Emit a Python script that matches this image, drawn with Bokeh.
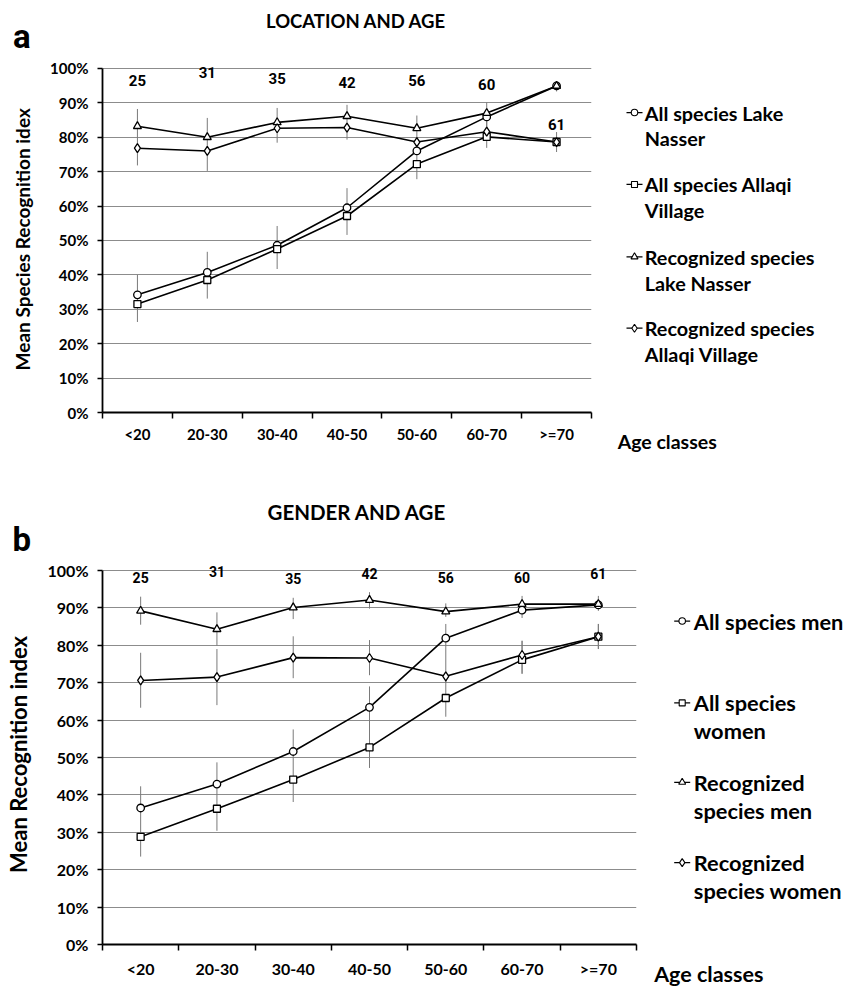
from bokeh.plotting import figure
from bokeh.models import Range1d, FixedTicker, PrintfTickFormatter, LabelSet, ColumnDataSource
from bokeh.layouts import column, row
from bokeh.embed import file_html
from bokeh.resources import INLINE
from bokeh.core.properties import value

# ---------------- data ----------------
age_classes = ["<20", "20-30", "30-40", "40-50", "50-60", "60-70", ">=70"]
y_ticks = [0, 10, 20, 30, 40, 50, 60, 70, 80, 90, 100]

# panel a : location and age
a_all_nasser = [34.2, 40.7, 48.6, 59.5, 76.0, 85.9, 94.9]
a_all_allaqi = [31.5, 38.5, 47.5, 57.1, 72.2, 80.1, 78.6]
a_rec_nasser = [83.2, 80.0, 84.3, 86.1, 82.6, 87.0, 94.9]
a_rec_allaqi = [76.8, 76.0, 82.6, 82.8, 78.6, 81.6, 78.6]
a_bar1_lo = [71.8, 70.2, 78.4, 79.3, 79.0, 82.0, 93.3]
a_bar1_hi = [88.2, 85.6, 88.5, 89.4, 86.3, 90.1, 96.2]
a_bar2_lo = [26.3, 33.1, 41.7, 51.6, 67.8, 76.9, 75.7]
a_bar2_hi = [40.0, 46.7, 54.2, 65.2, 80.0, 86.0, 81.5]
a_n = ["25", "31", "35", "42", "56", "60", "61"]
a_n_y = [96.6, 98.8, 97.0, 96.0, 96.5, 95.2, 83.7]
a_legend = [["All species Lake", "Nasser"], ["All species Allaqi", "Village"],
            ["Recognized species", "Lake Nasser"], ["Recognized species", "Allaqi Village"]]

# panel b : gender and age
b_all_men = [36.5, 42.9, 51.6, 63.4, 81.9, 89.4, 90.8]
b_all_women = [28.8, 36.3, 44.1, 52.7, 65.9, 76.1, 82.3]
b_rec_men = [89.2, 84.3, 90.1, 92.1, 89.0, 91.0, 91.0]
b_rec_women = [70.6, 71.5, 76.7, 76.6, 71.7, 77.4, 82.3]
b_bar1_lo = [85.5, 79.9, 87.0, 89.8, 87.6, 87.3, 89.2]
b_bar1_hi = [93.0, 88.8, 92.7, 94.2, 91.2, 93.2, 93.2]
b_bar2_lo = [63.3, 64.0, 71.2, 72.0, 70.0, 72.4, 79.0]
b_bar2_hi = [78.0, 79.0, 82.4, 81.4, 85.7, 81.2, 85.7]
b_bar3_lo = [23.5, 30.4, 38.1, 47.2, 60.9, 72.4, 79.0]
b_bar3_hi = [42.3, 48.7, 57.5, 69.0, 71.0, 81.2, 85.7]
b_n = ["25", "31", "35", "42", "56", "60", "61"]
b_n_y = [98.1, 99.8, 97.8, 99.2, 98.1, 98.1, 99.1]
b_legend = [["All species men"], ["All species", "women"],
            ["Recognized", "species men"], ["Recognized", "species women"]]

MARKERS = ["circle", "square", "triangle", "diamond"]
MSIZE = {"circle": 7.5, "square": 7, "triangle": 8, "diamond": 9}
FONT = "Lato"
NUMFONT = "Roboto"
W = 858


def title_fig(height, title, title_xy, title_size, letter, letter_xy, letter_size):
    t = figure(width=W, height=height, x_range=Range1d(0, W), y_range=Range1d(height, 0),
               output_backend="svg", toolbar_location=None,
               min_border_left=0, min_border_right=0, min_border_top=0, min_border_bottom=0)
    t.axis.visible = False
    t.grid.visible = False
    t.outline_line_color = None
    t.text(x=[title_xy[0]], y=[title_xy[1]], text=[title], text_align="left",
           text_baseline="middle", text_font=value(FONT), text_font_style="bold",
           text_font_size=value(title_size), text_color="black")
    t.text(x=[letter_xy[0]], y=[letter_xy[1]], text=[letter], text_align="left",
           text_baseline="middle", text_font=value(NUMFONT), text_font_style="bold",
           text_font_size=value(letter_size), text_color="black")
    return t


def make_plot(series, bars, counts, count_y, width, height, top, bottom, y_end,
              ylabel, ylabel_size, tick_size, xstand, count_size):
    p = figure(width=width, height=height, x_range=Range1d(0, 7), y_range=Range1d(0, y_end),
               output_backend="svg", toolbar_location=None,
               min_border_left=102, min_border_right=2,
               min_border_top=top, min_border_bottom=bottom)
    p.outline_line_color = None
    p.xgrid.visible = False
    centers = [i + 0.5 for i in range(len(age_classes))]
    bounds = list(range(len(age_classes) + 1))

    xa = p.xaxis[0]
    xa.ticker = FixedTicker(ticks=centers, minor_ticks=bounds)
    xa.major_label_overrides = {c: lab for c, lab in zip(centers, age_classes)}
    xa.major_tick_in = 0
    xa.major_tick_out = 0
    xa.minor_tick_in = 0
    xa.minor_tick_out = 6
    xa.minor_tick_line_color = "black"
    xa.minor_tick_line_width = 1.5
    xa.axis_line_color = "black"
    xa.axis_line_width = 1.8
    xa.major_label_standoff = xstand
    xa.major_label_text_font = FONT
    xa.major_label_text_font_style = "bold"
    xa.major_label_text_font_size = tick_size
    xa.major_label_text_color = "black"

    ya = p.yaxis[0]
    ya.ticker = FixedTicker(ticks=y_ticks)
    ya.bounds = (0, 100)
    ya.formatter = PrintfTickFormatter(format="%d%%")
    ya.major_tick_in = 0
    ya.major_tick_out = 5
    ya.major_tick_line_width = 1.5
    ya.minor_tick_line_color = None
    ya.axis_line_color = "black"
    ya.axis_line_width = 1.8
    ya.major_label_standoff = 9
    ya.major_label_text_font = FONT
    ya.major_label_text_font_style = "bold"
    ya.major_label_text_font_size = tick_size
    ya.major_label_text_color = "black"
    ya.axis_label = ylabel
    ya.axis_label_text_font = FONT
    ya.axis_label_text_font_style = "bold"
    ya.axis_label_text_font_size = ylabel_size
    ya.axis_label_text_color = "black"
    ya.axis_label_standoff = 13

    p.ygrid.grid_line_color = "#8c8c8c"
    p.ygrid.grid_line_width = 1

    for lo, hi in bars:
        p.segment(x0=centers, y0=lo, x1=centers, y1=hi, line_color="#7a7a7a", line_width=1)
    for vals in series:
        p.line(centers, vals, line_color="black", line_width=1.6)
    for vals, m in zip(series, MARKERS):
        p.scatter(centers, vals, marker=m, size=MSIZE[m], fill_color="white",
                  line_color="black", line_width=1.3)

    src = ColumnDataSource(dict(x=centers, y=count_y, t=counts))
    p.add_layout(LabelSet(x="x", y="y", text="t", source=src, text_align="center",
                          text_baseline="middle", text_font=value(NUMFONT),
                          text_font_style="bold", text_font_size=value(count_size),
                          text_color="black"))
    return p


def make_legend(labels, x0, height, ytop, ybot, entry_y, line_gap, text_x, mark_x,
                font_size, age_x, age_size, age_stand):
    lw = W - x0
    lf = figure(width=lw, height=height, x_range=Range1d(x0, W), y_range=Range1d(ybot, ytop),
                output_backend="svg", toolbar_location=None,
                min_border_left=0, min_border_right=0)
    lf.yaxis.visible = False
    lf.grid.visible = False
    lf.outline_line_color = None
    xa = lf.xaxis[0]
    xa.ticker = FixedTicker(ticks=[age_x])
    xa.major_label_overrides = {age_x: "Age classes"}
    xa.axis_line_color = None
    xa.major_tick_line_color = None
    xa.minor_tick_line_color = None
    xa.major_tick_out = 0
    xa.major_label_standoff = age_stand
    xa.major_label_text_font = FONT
    xa.major_label_text_font_style = "bold"
    xa.major_label_text_font_size = age_size
    xa.major_label_text_color = "black"
    for lab, ey, m in zip(labels, entry_y, MARKERS):
        lf.segment(x0=[mark_x - 8], y0=[ey], x1=[mark_x + 8], y1=[ey], line_color="black",
                   line_width=1.2)
        lf.scatter([mark_x], [ey], marker=m, size=MSIZE[m] - 1, fill_color="white",
                   line_color="black", line_width=1.1)
        ys = [ey + k * line_gap for k in range(len(lab))]
        lf.text(x=[text_x] * len(lab), y=ys, text=lab, text_align="left",
                text_baseline="middle", text_font=value(FONT), text_font_style="bold",
                text_font_size=value(font_size), text_color="black")
    return lf


# ---- panel a (page rows 0-56 and 56-480) ----
ta = title_fig(56, "LOCATION AND AGE", (265.5, 20), "18.5px", "a", (12.5, 36.2), "33px")
pa = make_plot([a_all_nasser, a_all_allaqi, a_rec_nasser, a_rec_allaqi],
               [(a_bar1_lo, a_bar1_hi), (a_bar2_lo, a_bar2_hi)],
               a_n, a_n_y, 593, 424, 2, 68, 102.0,
               "Mean  Species Recognition idex", "19px", "15px", 6, "15px")
la = make_legend(a_legend, 593, 424, 58, 412, [109.5, 182, 255, 327], 26, 644.3, 634,
                 "19.8px", 666.7, "19.5px", 17)

# ---- panel b (page rows 480-559 and 559-989) ----
tb = title_fig(79, "GENDER AND AGE", (267, 31.5), "20.5px", "b", (12, 59.2), "33px")
pb = make_plot([b_all_men, b_all_women, b_rec_men, b_rec_women],
               [(b_bar1_lo, b_bar1_hi), (b_bar2_lo, b_bar2_hi), (b_bar3_lo, b_bar3_hi)],
               b_n, b_n_y, 638, 430, 4, 43, 101.6,
               "Mean Recognition index", "22px", "16px", 8, "14px")
lb = make_legend(b_legend, 638, 430, 563, 946, [620, 702.5, 782.5, 863.5], 28, 693.3, 681.7,
                 "21.8px", 708.3, "21.5px", 16)

layout = column(row(ta), row(pa, la), row(tb), row(pb, lb))
open("out.html", "w").write(file_html(layout, INLINE))
